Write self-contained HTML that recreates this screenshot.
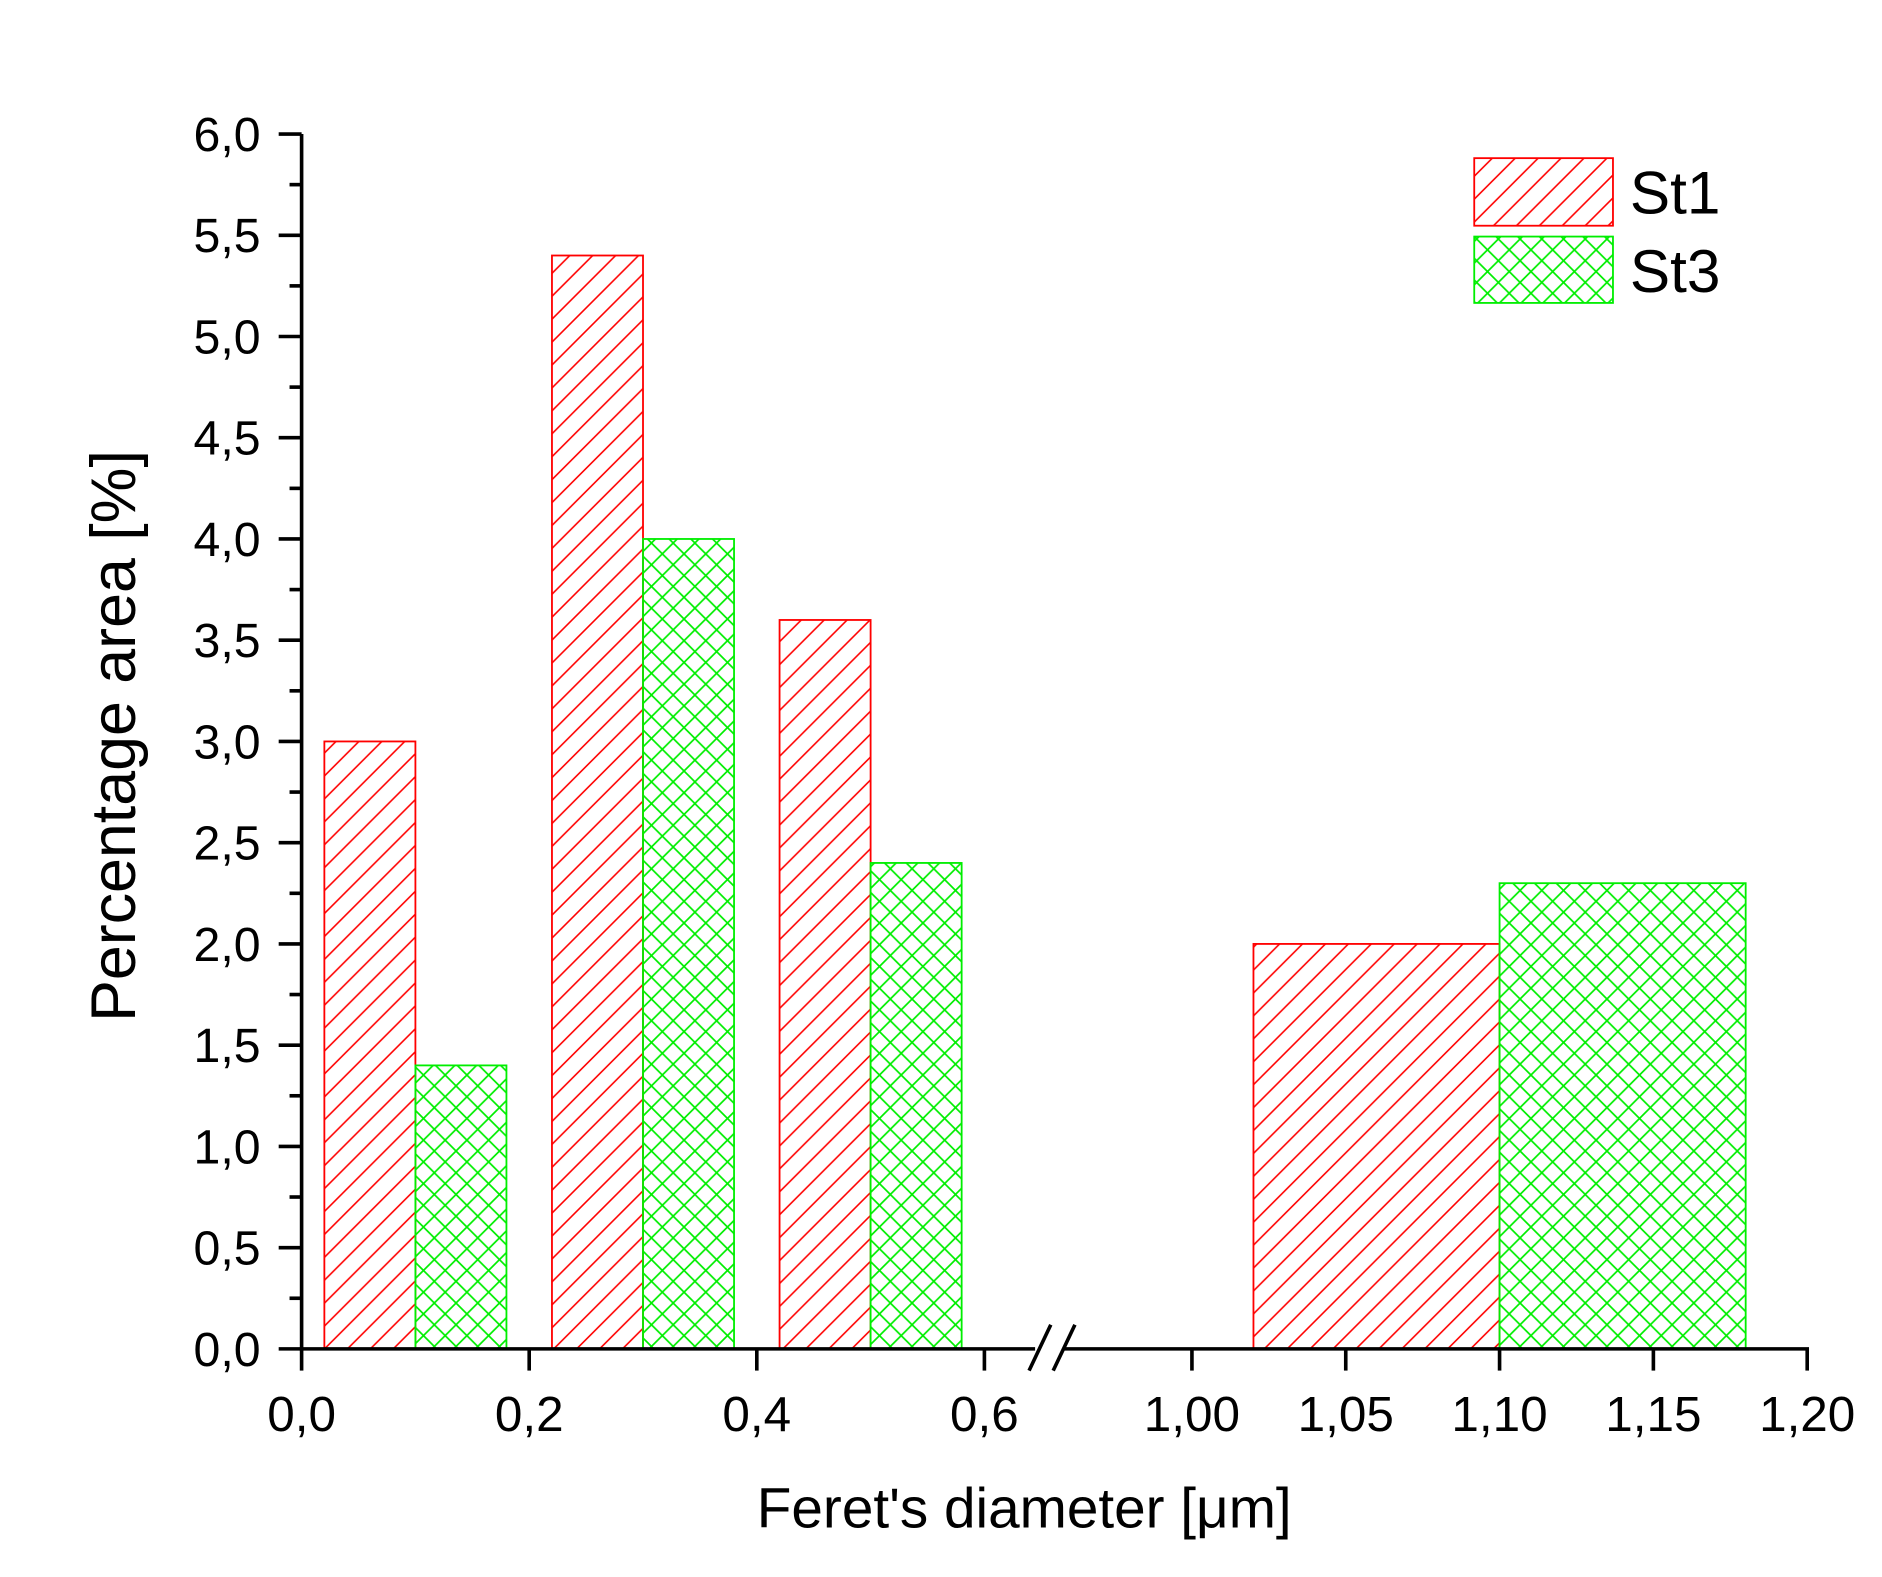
<!DOCTYPE html>
<html><head><meta charset="utf-8"><style>html,body{margin:0;padding:0;background:#fff}svg{display:block}text{font-family:"Liberation Sans",sans-serif;fill:#000}</style></head>
<body>
<svg id="chart" width="1882" height="1577" viewBox="0 0 1560 1307" xmlns="http://www.w3.org/2000/svg">
<defs>
<pattern id="hatchRed" patternUnits="userSpaceOnUse" width="19" height="19"><path d="M-2,21 L21,-2 M-2,2 L2,-2 M17,21 L21,17" stroke="#ff0000" stroke-width="1.3"/></pattern>
<pattern id="hatchGreen" patternUnits="userSpaceOnUse" width="18" height="18"><path d="M0,0 L18,18 M18,0 L0,18" stroke="#00ee00" stroke-width="1.4"/></pattern>
</defs>
<g id="plot"></g>
</svg>
<script>
const leftCats=[0.02,0.22,0.42];
const st1Left=[3.0,5.4,3.6];
const st3Left=[1.4,4.0,2.4];
const rightCats=[1.02];
const st1Right=[2.0];
const st3Right=[2.3];
const barWidth=0.08;
const yTicks=["0,0","0,5","1,0","1,5","2,0","2,5","3,0","3,5","4,0","4,5","5,0","5,5","6,0"];
const xTicksLeft=[0.0,0.2,0.4,0.6];
const xLabelsLeft=["0,0","0,2","0,4","0,6"];
const xTicksRight=[1.00,1.05,1.10,1.15,1.20];
const xLabelsRight=["1,00","1,05","1,10","1,15","1,20"];

const NS="http://www.w3.org/2000/svg";
const g=document.getElementById('plot');
function y(v){return 1118-v*(1118-111)/6;}
function xl(v){return 250+v*943.3;}
function xr(v){return 988+(v-1.0)*2550;}
function mk(tag,attrs,parent){const e=document.createElementNS(NS,tag);for(const k in attrs)e.setAttribute(k,attrs[k]);(parent||g).appendChild(e);return e;}
function bar(x0,x1,v,fill,stroke,name){
  const r=mk('rect',{x:x0,y:y(v),width:x1-x0,height:y(0)-y(v),fill:fill,stroke:stroke,'stroke-width':1.5});
  
  
}
leftCats.forEach((c,i)=>{
  bar(xl(c),xl(c+barWidth),st1Left[i],'url(#hatchRed)','#ff0000','bar-st1-'+i);
  bar(xl(c+barWidth),xl(c+2*barWidth),st3Left[i],'url(#hatchGreen)','#00ee00','bar-st3-'+i);
});
rightCats.forEach((c,i)=>{
  bar(xr(c),xr(c+barWidth),st1Right[i],'url(#hatchRed)','#ff0000','bar-st1-right-'+i);
  bar(xr(c+barWidth),xr(c+2*barWidth),st3Right[i],'url(#hatchGreen)','#00ee00','bar-st3-right-'+i);
});
const ya=mk('line',{x1:250,y1:y(0)+1.5,x2:250,y2:y(6),stroke:'#000','stroke-width':3});


for(let k=0;k<=24;k++){
  const v=k*0.25, major=k%2===0;
  mk('line',{x1:major?231:240,y1:y(v),x2:250,y2:y(v),stroke:'#000','stroke-width':3});
  if(major){
    const t=mk('text',{x:216,y:y(v)+14,'font-size':40,'text-anchor':'end'});
    t.textContent=yTicks[k/2];
    
    
  }
}
const xa1=mk('line',{x1:248.5,y1:y(0),x2:858,y2:y(0),stroke:'#000','stroke-width':3});


const xa2=mk('line',{x1:882,y1:y(0),x2:xr(1.2)+1.5,y2:y(0),stroke:'#000','stroke-width':3});


const br=mk('path',{d:'M853,1136 L871,1098 M873,1136 L891,1098',stroke:'#000','stroke-width':3,fill:'none'});


function xtick(px,label){
  mk('line',{x1:px,y1:y(0),x2:px,y2:y(0)+18,stroke:'#000','stroke-width':3});
  const t=mk('text',{x:px,y:1186,'font-size':41,'text-anchor':'middle'});
  t.textContent=label;
  
  
}
xTicksLeft.forEach((v,i)=>xtick(xl(v),xLabelsLeft[i]));
xTicksRight.forEach((v,i)=>xtick(xr(v),xLabelsRight[i]));
const xt=mk('text',{x:849,y:1266,'font-size':47,'text-anchor':'middle'});
xt.textContent="Feret's diameter [\u03bcm]";


const yt=mk('text',{x:0,y:0,'font-size':52,'text-anchor':'middle',transform:'translate(112,610) rotate(-90)'});
yt.textContent="Percentage area [%]";


const l1=mk('rect',{x:1222,y:131,width:115,height:56,fill:'url(#hatchRed)',stroke:'#ff0000','stroke-width':1.5});


const l2=mk('rect',{x:1222,y:196,width:115,height:55,fill:'url(#hatchGreen)',stroke:'#00ee00','stroke-width':1.5});


const t1=mk('text',{x:1351,y:177,'font-size':50});
t1.textContent='St1';


const t2=mk('text',{x:1351,y:242,'font-size':50});
t2.textContent='St3';


</script>
</body></html>
